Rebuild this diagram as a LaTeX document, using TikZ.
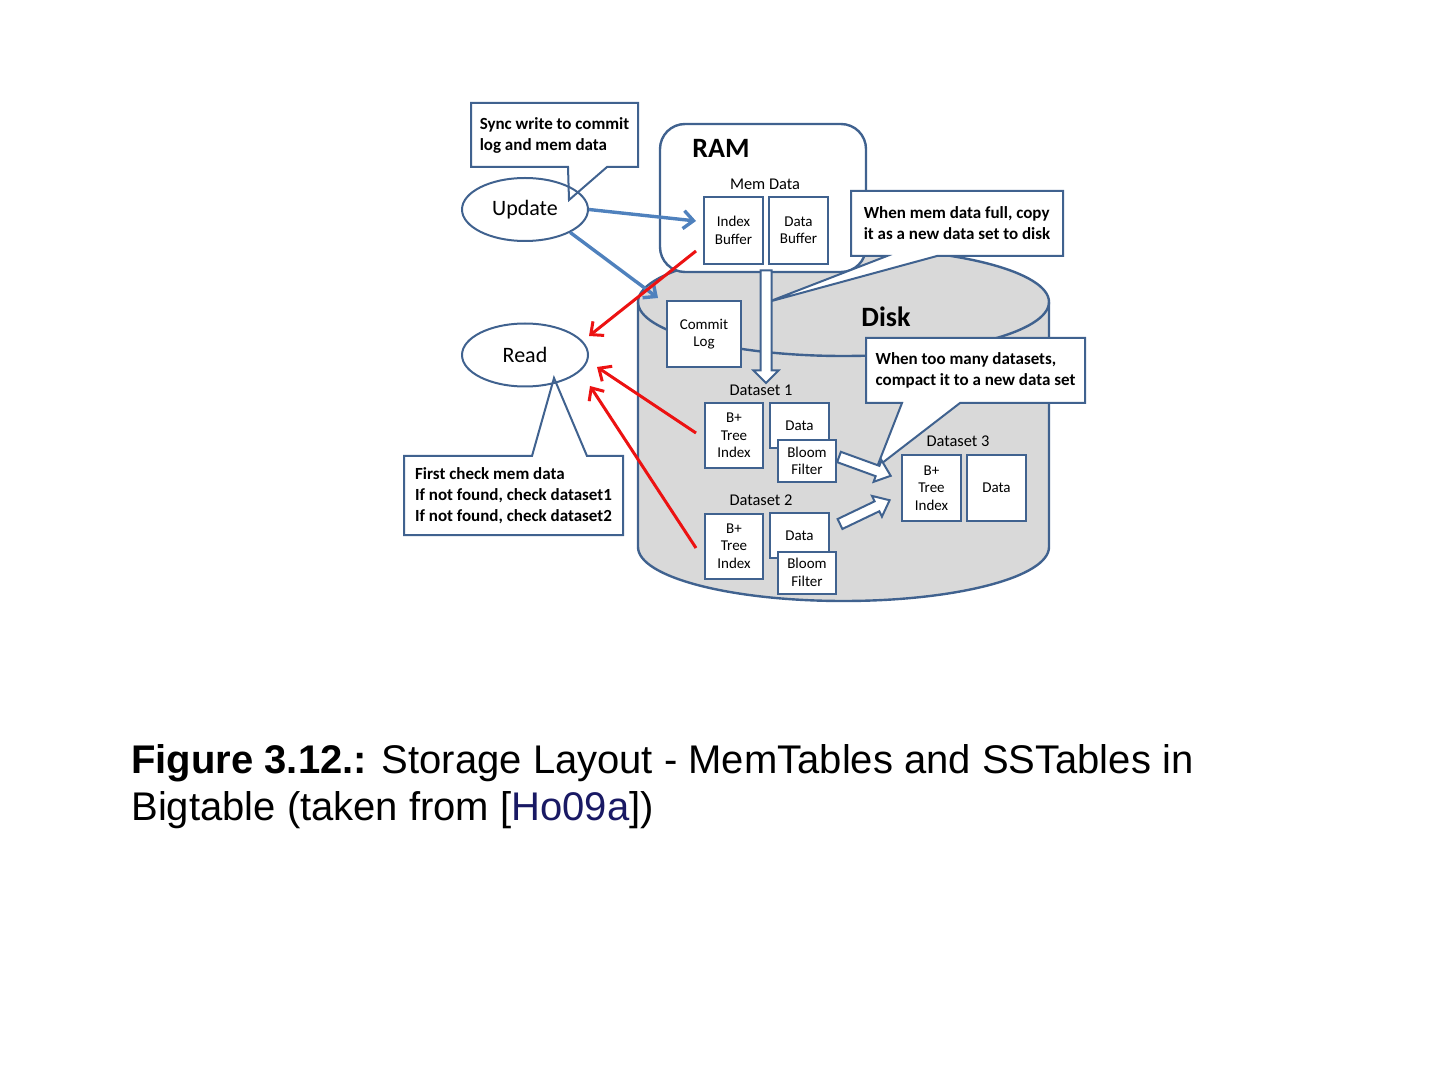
\documentclass[tikz,border=0pt]{standalone}
\usepackage{fontspec}
\setmainfont{Carlito}
\newfontfamily\capfont{Liberation Sans}
\usetikzlibrary{positioning,shapes.geometric,arrows.meta,calc}
\definecolor{boxblue}{RGB}{64,98,143}
\definecolor{writeblue}{RGB}{79,129,189}
\definecolor{readred}{RGB}{236,18,18}
\definecolor{diskgray}{RGB}{217,217,217}
\definecolor{citeblue}{RGB}{25,25,100}
\tikzset{
  part box/.style={
    draw=boxblue, fill=white, line width=1pt,
    minimum width={#1}, minimum height=33.5pt,
    inner sep=1pt, align=center,
    font=\fontsize{7.5}{8.7}\selectfont,
  },
  note/.style={
    fill=white, minimum width={#1}, minimum height=32.5pt,
    inner sep=0pt, outer sep=0pt, align=left,
    font=\bfseries\fontsize{8.5}{10.5}\selectfont,
  },
  note line/.style={draw=boxblue, line width=1pt, line join=miter},
  job/.style={
    ellipse, draw=boxblue, line width=1pt,
    minimum width=63pt, minimum height=31.5pt,
    font=\fontsize{11}{13}\selectfont,
  },
  store/.style={
    draw=boxblue, fill=white, line width=1.2pt,
    rounded corners=12.5pt, minimum width=103pt, minimum height=74pt,
  },
  disk/.style={draw=boxblue, fill=diskgray, line width=1.2pt},
  title/.style={inner sep=0pt, font=\bfseries\fontsize{14}{16}\selectfont},
  label/.style={inner sep=0pt, font=\fontsize{8.2}{10}\selectfont},
  hollow/.style={draw=boxblue, fill=white, line width=1pt, line join=miter},
  write arrow/.style={writeblue, line width=1.7pt, -{Straight Barb[length=5pt,width=9pt]}},
  read arrow/.style={readred, line width=1.5pt, -{Straight Barb[length=5pt,width=9pt]}},
  caption/.style={inner sep=0pt, align=left, font=\capfont\fontsize{20}{23.5}\selectfont},
}

\begin{document}
\begin{tikzpicture}[x=0.5pt, y=-0.5pt]
  \useasboundingbox (0,0) rectangle (1440,1080);

  % disk
  \path[disk] (638,302) -- (638,547)
    arc[start angle=180, end angle=0, x radius=205.5, y radius=54] -- (1049,302)
    arc[start angle=0, end angle=-180, x radius=205.5, y radius=54] -- cycle;
  \draw[disk, fill=none] (638,302) arc[start angle=180, end angle=0, x radius=205.5, y radius=54];
  \node[title] (disk) at (886,317) {Disk};

  % ram
  \node[store] (ram) at (763,198) {};
  \node[title, anchor=west] (ram title) at (692,148) {RAM};
  \node[label] (mem data) at (765,184) {Mem Data};
  \node[part box=29.5pt] (idxbuf) at (733.5,230.5) {Index\\Buffer};
  \node[part box=29.5pt, right=2pt of idxbuf] (databuf) {Data\\Buffer};

  \node[part box=37pt, minimum height=33pt] (commit) at (704,334) {Commit\\Log};

  % datasets
  \node[label] (ds1) at (761,390) {Dataset 1};
  \node[part box=29pt, minimum height=32.5pt] (tree1) at (734,435.5) {B+\\Tree\\Index};
  \node[part box=29.5pt, minimum height=22.5pt] (data1) at (799.5,425.5) {Data};
  \node[part box=29pt, minimum height=21pt] (bloom1) at (807,461) {Bloom\\Filter};

  \node[label] (ds2) at (761,500) {Dataset 2};
  \node[part box=29pt, minimum height=32.5pt] (tree2) at (734,546) {B+\\Tree\\Index};
  \node[part box=29.5pt, minimum height=22.5pt] (data2) at (799.5,535.5) {Data};
  \node[part box=29pt, minimum height=21pt] (bloom2) at (807,572.5) {Bloom\\Filter};

  \node[label] (ds3) at (958,441) {Dataset 3};
  \node[part box=29.5pt, minimum height=33pt] (tree3) at (931.5,488) {B+\\Tree\\Index};
  \node[part box=29.5pt, minimum height=33pt, right=2pt of tree3] (data3) {Data};

  % callouts
  \node[note=83.5pt, minimum height=32pt] (sync) at (554.5,135) {Sync write to commit\\log and mem data};
  \coordinate (sync tip) at (569,200);
  \fill[white] ($(sync.south west)+(97,0)$) -- (sync tip) -- ($(sync.south west)+(136,0)$) -- cycle;
  \draw[note line] ($(sync.south west)+(97,0)$) -- (sync.south west) -- (sync.north west)
    -- (sync.north east) -- (sync.south east) -- ($(sync.south west)+(136,0)$) -- (sync tip) -- cycle;

  \node[note=106pt] (full) at (957,223.5) {When mem data full, copy\\it as a new data set to disk};
  \coordinate (full tip) at (768,302);
  \fill[white] ($(full.south west)+(36,0)$) -- (full tip) -- ($(full.south west)+(86,0)$) -- cycle;
  \draw[note line] ($(full.south west)+(36,0)$) -- (full.south west) -- (full.north west)
    -- (full.north east) -- (full.south east) -- ($(full.south west)+(86,0)$) -- (full tip) -- cycle;

  \node[note=109.5pt] (many) at (975.5,370.5) {When too many datasets,\\compact it to a new data set};
  \coordinate (many tip) at (877,467);
  \fill[white] ($(many.south west)+(36,0)$) -- (many tip) -- ($(many.south west)+(94,0)$) -- cycle;
  \draw[note line] ($(many.south west)+(36,0)$) -- (many.south west) -- (many.north west)
    -- (many.north east) -- (many.south east) -- ($(many.south west)+(94,0)$) -- (many tip) -- cycle;

  \node[note=109.5pt, minimum height=39.5pt] (check) at (513.5,495.5) {First check mem data\\If not found, check dataset1\\If not found, check dataset2};
  \coordinate (check tip) at (554,378);
  \fill[white] ($(check.north west)+(128,0)$) -- (check tip) -- ($(check.north west)+(183,0)$) -- cycle;
  \draw[note line] ($(check.north west)+(128,0)$) -- (check.north west) -- (check.south west)
    -- (check.south east) -- (check.north east) -- ($(check.north west)+(183,0)$) -- (check tip) -- cycle;

  % requests
  \node[job] (update) at (525,209.5) {Update};
  \node[job] (read) at (525,355) {Read};

  % copy and compaction
  \draw[hollow, shift={($(idxbuf.south east)!0.5!(databuf.south west)+(0,5.5)$)}, rotate=-90]
    (0,-5.5) -- (100,-5.5) -- (100,-12.5) -- (112.5,0) -- (100,12.5) -- (100,5.5) -- (0,5.5) -- cycle;
  \draw[hollow, shift={($(bloom1.east)+(2,-4)$)}, rotate=-20]
    (0,-5.5) -- (41,-5.5) -- (41,-11.5) -- (55,0) -- (41,11.5) -- (41,5.5) -- (0,5.5) -- cycle;
  \draw[hollow, shift={($(data2.east)+(10,-11.5)$)}, rotate=25.6]
    (0,-5.5) -- (41,-5.5) -- (41,-11.5) -- (55,0) -- (41,11.5) -- (41,5.5) -- (0,5.5) -- cycle;

  % writes and reads
  \draw[write arrow] (update.east) -- ($(idxbuf.west)+(-7,-9.5)$);
  \draw[write arrow] (update.south east) -- ($(commit.north west)+(-8,-2)$);
  \draw[read arrow] ($(idxbuf.west)+(-7,20.5)$) -- ($(read.east)+(0,-19)$);
  \draw[read arrow] ($(tree1.west)+(-8,-2.5)$) -- ($(read.east)+(8,12)$);
  \draw[read arrow] ($(tree2.west)+(-8,2)$) -- ($(read.east)+(1,31)$);

  \node[caption, anchor=base west] (caption) at (131,820) {\textbf{Figure 3.12.:} Storage Layout - MemTables and SSTables in\\Bigtable (taken from [\textcolor{citeblue}{Ho09a}])};
\end{tikzpicture}
\end{document}
